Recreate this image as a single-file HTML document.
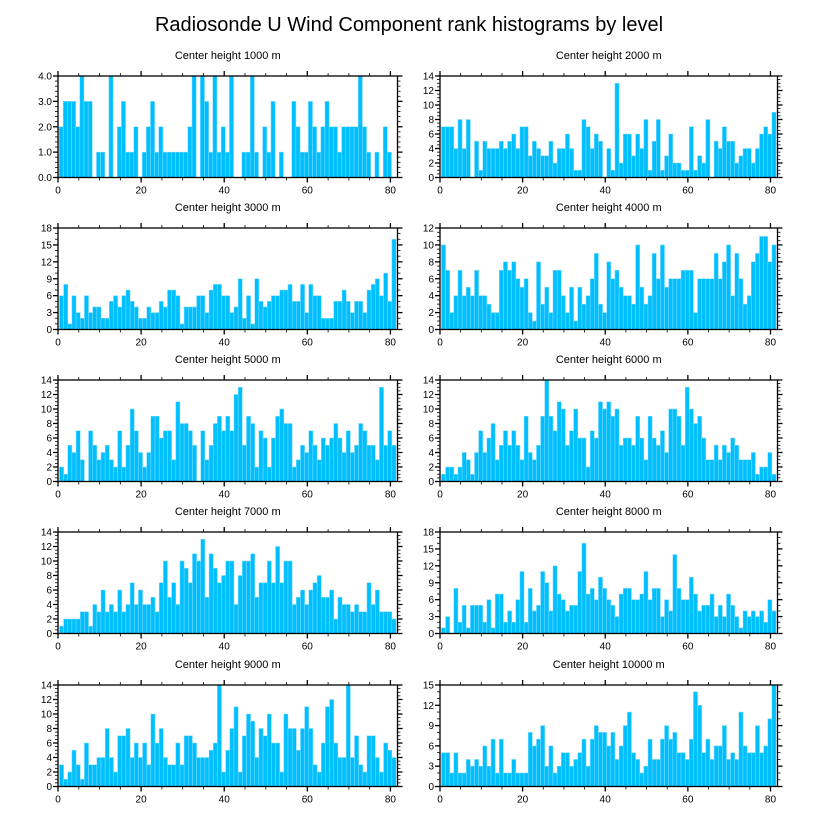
<!DOCTYPE html>
<html><head><meta charset="utf-8"><style>
body{margin:0;background:#fff;}
svg{display:block;font-family:"Liberation Sans",sans-serif;}
</style></head><body>
<svg id="chart" width="818" height="824" viewBox="0 0 818 824">
<text x="409" y="31" text-anchor="middle" font-size="20" fill="#000">Radiosonde U Wind Component rank histograms by level</text>
</svg>
<script>
const titles = ["Center height 1000 m","Center height 2000 m","Center height 3000 m","Center height 4000 m","Center height 5000 m","Center height 6000 m","Center height 7000 m","Center height 8000 m","Center height 9000 m","Center height 10000 m"];
const yMax = [4,14,18,12,14,14,14,18,14,15];
const yStep = [1,2,3,2,2,2,2,3,2,3];
const xTicks = [0,20,40,60,80];
const h1000 = [2,3,3,3,2,4,3,3,0,1,1,0,4,0,2,3,1,1,2,0,1,2,3,1,2,1,1,1,1,1,1,2,4,0,4,3,1,4,1,2,1,4,0,0,1,1,4,1,0,2,1,3,0,1,0,0,3,2,1,1,3,2,1,2,3,2,2,1,2,2,2,2,4,2,1,0,1,0,2,1];
const h2000 = [7,7,7,4,8,4,8,0,5,1,5,4,4,4,5,4,5,6,4,7,7,3,5,4,3,3,5,2,4,4,6,4,1,1,8,7,4,6,5,0,4,1,13,2,6,6,3,6,4,8,1,5,8,1,3,6,2,2,1,1,7,1,3,2,8,0,5,4,7,5,5,2,3,4,4,2,4,6,7,6,9];
const h3000 = [6,8,1,6,3,2,6,3,4,4,2,2,5,6,4,6,7,5,4,2,2,4,3,3,5,4,7,7,6,1,4,4,4,6,6,3,7,8,8,6,6,3,4,9,2,6,1,9,5,4,5,6,6,7,7,8,5,5,8,3,8,6,6,2,2,2,5,5,7,5,3,5,5,3,7,8,9,6,10,5,16];
const h4000 = [10,7,2,4,7,4,5,4,7,4,4,3,2,2,7,8,7,8,6,5,6,2,1,8,3,5,2,7,7,4,2,5,1,5,3,4,6,9,3,2,8,6,7,5,4,4,3,10,5,3,4,9,6,10,5,6,6,6,7,7,7,2,6,6,6,6,9,6,8,10,4,9,6,3,4,8,9,11,11,8,10];
const h5000 = [2,1,5,4,7,3,0,7,5,3,4,5,3,2,7,2,5,10,7,4,2,4,9,9,6,7,7,3,11,8,8,7,5,0,7,3,5,8,9,7,9,7,12,13,5,9,8,2,7,6,2,6,9,10,8,8,2,3,5,4,7,5,3,6,5,6,8,6,4,7,4,5,8,7,5,5,3,13,5,7,5];
const h6000 = [1,2,2,1,2,4,3,1,4,7,4,6,8,3,5,7,5,7,5,3,9,4,3,5,9,14,9,7,11,10,5,7,10,6,6,2,7,6,11,10,11,9,10,5,6,6,5,9,6,3,9,6,5,7,4,10,10,9,5,13,10,8,9,6,3,3,5,3,5,4,6,5,3,3,3,4,1,2,2,4,1];
const h7000 = [1,2,2,2,2,3,3,1,4,3,6,3,4,3,6,3,4,7,4,6,4,4,5,3,7,10,5,7,4,10,9,7,11,10,13,5,11,9,7,8,10,10,4,8,10,10,11,5,7,7,10,7,12,7,10,10,4,5,6,4,6,7,8,5,5,6,2,5,4,4,3,4,3,3,7,4,6,3,3,3,2];
const h8000 = [1,3,0,8,2,5,1,5,5,5,2,6,1,7,7,2,4,2,6,11,2,8,4,5,11,9,4,12,7,6,4,5,5,11,16,7,8,6,10,8,6,5,3,7,8,8,6,6,7,11,6,8,8,3,6,4,14,8,6,6,10,7,4,5,5,7,3,5,3,7,5,3,1,4,3,4,3,4,2,6,4];
const h9000 = [3,1,2,5,3,1,6,3,3,4,4,8,4,2,7,7,8,4,6,4,6,3,10,6,8,4,3,3,6,3,7,7,6,4,4,4,5,6,14,2,5,8,11,2,7,10,9,4,8,7,10,6,6,2,10,8,8,5,8,11,8,3,2,6,11,12,6,4,4,14,4,7,3,2,7,7,4,2,6,5,4];
const h10000 = [5,5,2,5,2,2,4,3,4,3,6,3,7,2,7,2,2,4,2,2,2,8,6,7,9,3,6,2,3,5,5,3,4,5,7,3,7,9,8,8,6,8,4,6,9,11,5,4,2,3,7,4,4,7,9,7,8,5,5,4,7,14,12,5,7,4,6,6,9,4,5,4,11,6,5,5,9,5,6,10,15];
const series = [h1000,h2000,h3000,h4000,h5000,h6000,h7000,h8000,h9000,h10000];

const NS = "http://www.w3.org/2000/svg";
const svg = document.getElementById('chart');
function mk(tag, attrs, parent){
  const e = document.createElementNS(NS, tag);
  for (const k in attrs) e.setAttribute(k, attrs[k]);
  parent.appendChild(e);
  return e;
}
const colL = [58, 397.5], colR = [440, 777.5];
const rowTop = [76, 228, 380, 532, 685];
const ph = 101.5;
const xMaxV = 81.7;

series.forEach((vals, p) => {
  const col = p % 2 === 0 ? colL : colR;
  const top = rowTop[Math.floor(p/2)];
  const bot = top + ph;
  const L = col[0], R = col[1];
  const xs = v => L + (v / xMaxV) * (R - L);
  const ys = v => bot - (v / yMax[p]) * ph;
  const g = mk('g', {}, svg);
  
  
  const t = mk('text', {x:(L+R)/2, y: top-17, 'text-anchor':'middle', 'font-size':'11'}, g);
  t.textContent = titles[p];
  
  
  const off = p === 0 ? 0.25 : 0.35;
  vals.forEach((v, i) => {
    if (v <= 0) return;
    const x0 = xs(i + off), x1 = xs(i + off + 1);
    const r = mk('rect', {x:x0, y:ys(v), width:x1-x0, height:bot-ys(v), fill:'#00bfff', stroke:'#80dcff', 'stroke-width':'0.5'}, g);
    
    
  });
  const frame = mk('rect', {x:L, y:top, width:R-L, height:ph, fill:'none', stroke:'#000', 'stroke-width':'1.3'}, g);
  
  
  // x ticks
  for (let v = 0; v <= 80; v += 5) {
    const major = v % 20 === 0;
    const len = major ? 5 : 3;
    mk('line', {x1:xs(v), x2:xs(v), y1:bot, y2:bot+len, stroke:'#000', 'stroke-width': major?1.3:0.8}, g);
    mk('line', {x1:xs(v), x2:xs(v), y1:top, y2:top-len, stroke:'#000', 'stroke-width': major?1.3:0.8}, g);
  }
  xTicks.forEach(v => {
    const tl = mk('text', {x:xs(v), y:bot+16, 'text-anchor':'middle', 'font-size':'10'}, g);
    tl.textContent = v;
    
    
  });
  // y ticks
  const step = yStep[p];
  const nMinor = step === 1 ? 5 : (step === 2 ? 4 : 3);
  for (let k = 0; k <= yMax[p] / step * nMinor; k++) {
    const v = k * step / nMinor;
    const major = k % nMinor === 0;
    const len = major ? 5 : 3;
    mk('line', {x1:L, x2:L-len, y1:ys(v), y2:ys(v), stroke:'#000', 'stroke-width': major?1.3:0.8}, g);
    mk('line', {x1:R, x2:R+len, y1:ys(v), y2:ys(v), stroke:'#000', 'stroke-width': major?1.3:0.8}, g);
  }
  for (let v = 0; v <= yMax[p]; v += step) {
    const yl = mk('text', {x:L-6, y:ys(v)+3.5, 'text-anchor':'end', 'font-size':'10'}, g);
    yl.textContent = p === 0 ? v.toFixed(1) : v;
    
    
  }
});
</script>
</body></html>
